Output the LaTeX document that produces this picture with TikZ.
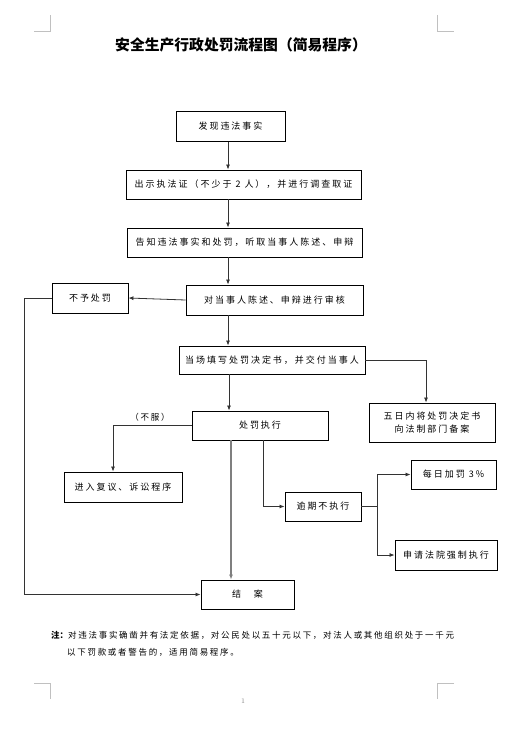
\documentclass[tikz,border=0pt]{standalone}
\usepackage{fontspec}
\usetikzlibrary{arrows.meta}
\newfontfamily\cjk[LetterSpace=22]{Noto Sans CJK SC}
\newfontfamily\cjknote[LetterSpace=20]{Noto Sans CJK SC}
\newfontfamily\cjkt{Noto Sans CJK SC}
\definecolor{linec}{HTML}{333333}
\definecolor{greyline}{HTML}{7F7F7F}
\definecolor{markc}{HTML}{C0C0C0}
\begin{document}
\begin{tikzpicture}[x=1pt,y=-1pt,
  box/.style={draw=black,line width=0.9pt,rectangle,inner sep=0pt,font=\cjk\fontsize{9}{12}\selectfont,align=center},
  conn/.style={draw=linec,line width=0.8pt},
  arr/.style={conn,-{Latex[length=5pt,width=4pt]}},
  garr/.style={draw=greyline,line width=1.4pt,-{Latex[length=5pt,width=4pt]}},
  cornermark/.style={draw=markc,line width=0.6pt}]
\useasboundingbox (0,0) rectangle (512,738);
\fill[white] (0,0) rectangle (512,738);
% corner marks
\draw[cornermark] (34,31) -- (50,31) -- (50,15);
\draw[cornermark] (437,15) -- (437,31) -- (454,31);
\draw[cornermark] (34,683) -- (50,683) -- (50,699);
\draw[cornermark] (454,683) -- (437,683) -- (437,699);
% title
\node (title) at (241,45) {\cjkt\bfseries\fontsize{14.8}{16}\selectfont 安全生产行政处罚流程图（简易程序）};
% column coordinates
\coordinate (cx228) at (228,0);
\coordinate (cx231) at (231,0);
\coordinate (cx263) at (263,0);
\coordinate (cx377) at (377,0);
% boxes
\node[box,minimum width=109,minimum height=30] (n1) at (230.5,126.5) {发现违法事实};
\node[box,minimum width=235,minimum height=29] (n2) at (243.5,184.5) {出示执法证（不少于 2 人），并进行调查取证};
\node[box,minimum width=235,minimum height=29] (n3) at (244.5,242.5) {告知违法事实和处罚，听取当事人陈述、申辩};
\node[box,minimum width=177,minimum height=30] (n4) at (274.5,300) {对当事人陈述、申辩进行审核};
\node[box,minimum width=76,minimum height=30] (n5) at (90,298) {不予处罚};
\node[box,minimum width=186,minimum height=28] (n6) at (272,360) {当场填写处罚决定书，并交付当事人};
\node[box,minimum width=126,minimum height=39] (n7) at (432,422.5) {五日内将处罚决定书\\[1pt]向法制部门备案};
\node[box,minimum width=136,minimum height=29] (n8) at (260,425.5) {处罚执行};
\node[box,minimum width=118,minimum height=30] (n9) at (123,487) {进入复议、诉讼程序};
\node[box,minimum width=76,minimum height=29] (n10) at (323,506.5) {逾期不执行};
\node[box,minimum width=85,minimum height=29] (n11) at (453.5,474.5) {每日加罚 3\%};
\node[box,minimum width=102,minimum height=30] (n12) at (446,555) {申请法院强制执行};
\node[box,minimum width=93,minimum height=29] (n13) at (247.5,594.5) {结　案};
\coordinate (j) at (n10.east -| cx377);
% connectors
\draw[arr] (n1.south -| cx228) -- (n2.north -| cx228);
\draw[arr] (n2.south -| cx228) -- (n3.north -| cx228);
\draw[arr] (n3.south -| cx228) -- (n4.north -| cx228);
\draw[arr] (n4.west) -- (n5.east);
\draw[arr] (n4.south -| cx228) -- (n6.north -| cx228);
\draw[arr] (n6.east) -| ([xshift=-6]n7.north);
\draw[arr] ([xshift=-43]n6.south) -- ([xshift=-31]n8.north);
\draw[arr] (n8.west) -| ([xshift=-10]n9.north);
\node[font=\cjknote\fontsize{8.5}{10}\selectfont] (lbl) at (150,417) {（不服）};
\draw[garr] (n8.south -| cx231) -- (n13.north -| cx231);
\draw[arr] (n8.south -| cx263) |- (n10.west);
\draw[conn] (n10.east) -- (j);
\draw[arr] (j) |- (n11.west);
\draw[arr] (j) |- (n12.west);
\coordinate (lx) at (24,0);
\draw[arr] (n5.west) -- (n5.west -| lx) -- (n13.west -| lx) -- (n13.west);
% note
\node[anchor=west,inner sep=0pt,font=\cjknote\fontsize{8.5}{10}\selectfont] (note1) at (51,635) {{\cjkt\bfseries 注：}对违法事实确凿并有法定依据，对公民处以五十元以下，对法人或其他组织处于一千元};
\node[anchor=west,inner sep=0pt,font=\cjknote\fontsize{8.5}{10}\selectfont] (note2) at (67,652) {以下罚款或者警告的，适用简易程序。};
% page number
\node[text=gray,font=\fontsize{7}{8}\selectfont] (pg) at (243,701) {1};
\end{tikzpicture}
\end{document}
